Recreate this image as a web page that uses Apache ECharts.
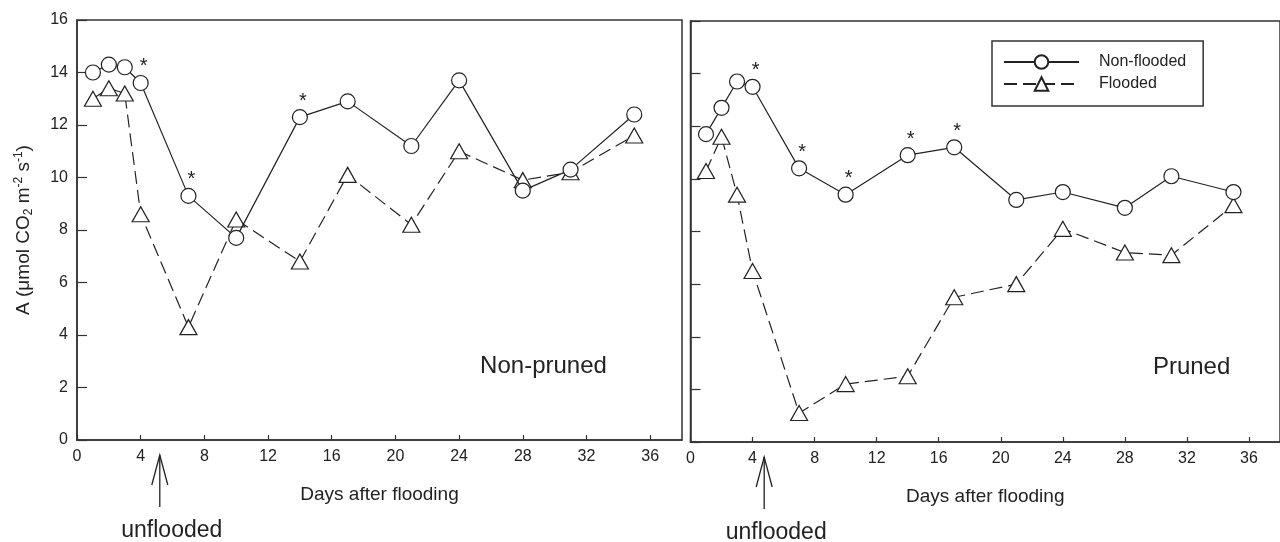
<!DOCTYPE html>
<html>
<head>
<meta charset="utf-8">
<script src="https://cdn.jsdelivr.net/npm/echarts@6/dist/echarts.min.js"></script>
<style>
html, body { margin: 0; padding: 0; background: #fff; }
#chart { width: 1280px; height: 542px; }
</style>
</head>
<body>
<div id="chart"></div>
<script>
// sampling days after flooding
var days = [1, 2, 3, 4, 7, 10, 14, 17, 21, 24, 28, 31, 35];

// A (umol CO2 m-2 s-1), non-pruned panel
var nonPrunedNonFlooded = [14.0, 14.3, 14.2, 13.6, 9.3, 7.7, 12.3, 12.9, 11.2, 13.7, 9.5, 10.3, 12.4];
var nonPrunedFlooded = [13.0, 13.4, 13.2, 8.6, 4.3, 8.4, 6.8, 10.1, 8.2, 11.0, 9.9, 10.2, 11.6];

// pruned panel
var prunedNonFlooded = [11.7, 12.7, 13.7, 13.5, 10.4, 9.4, 10.9, 11.2, 9.2, 9.5, 8.9, 10.1, 9.5];
var prunedFlooded = [10.3, 11.6, 9.4, 6.5, 1.1, 2.2, 2.5, 5.5, 6.0, 8.1, 7.2, 7.1, 9.0];

// days marked with * (significant difference)
var sigNonPruned = [4, 7, 14];
var sigPruned = [4, 7, 10, 14, 17];

var panelNames = ['Non-pruned', 'Pruned'];
var unfloodedDay = [5.2, 4.75];

var FONT = 'Liberation Sans, Arial, sans-serif';
var INK = '#222';

var chart = echarts.init(document.getElementById('chart'));

function buildData(values, sigDays) {
    return days.map(function (d, i) {
        return { value: [d, values[i]], label: { show: sigDays.indexOf(d) >= 0 } };
    });
}

function makeSeries(name, idx, values, sigDays, flooded) {
    return {
        name: name,
        type: 'line',
        xAxisIndex: idx,
        yAxisIndex: idx,
        data: buildData(values, sigDays),
        symbol: flooded ? 'triangle' : 'circle',
        symbolSize: flooded ? [17, 15] : 15,
        showAllSymbol: true,
        itemStyle: { color: '#fff', borderColor: INK, borderWidth: 1.2 },
        lineStyle: { color: INK, width: 1.2, type: flooded ? [13, 6] : 'solid' },
        label: {
            show: false,
            formatter: '*',
            position: 'top',
            distance: 0,
            offset: [3, 2],
            fontSize: 20,
            color: INK,
            fontFamily: FONT
        },
        emphasis: { disabled: true },
        z: flooded ? 2 : 3
    };
}

function xAxisCfg(idx) {
    return {
        type: 'value',
        gridIndex: idx,
        min: 0,
        max: 38,
        interval: 4,
        name: 'Days after flooding',
        nameLocation: 'middle',
        nameGap: 45,
        nameTextStyle: { fontSize: 19, color: INK, fontFamily: FONT },
        axisLine: { lineStyle: { color: '#333', width: 1.5 } },
        axisTick: { inside: true, length: 5, lineStyle: { color: '#333', width: 1.2 } },
        axisLabel: { fontSize: 16, color: INK, fontFamily: FONT, margin: 9, showMaxLabel: false },
        splitLine: { show: false }
    };
}

function yAxisCfg(idx) {
    var cfg = {
        type: 'value',
        gridIndex: idx,
        min: 0,
        max: 16,
        interval: 2,
        axisLine: { show: true, lineStyle: { color: '#333', width: 1.5 } },
        axisTick: { show: true, inside: true, length: 10, lineStyle: { color: '#333', width: 1.2 } },
        axisLabel: { show: idx === 0, fontSize: 16, color: INK, fontFamily: FONT, margin: 9 },
        splitLine: { show: false }
    };
    if (idx === 0) {
        cfg.name = 'A (\u03bcmol CO{sub|2} m{sup|-2} s{sup|-1})';
        cfg.nameLocation = 'middle';
        cfg.nameGap = 42;
        cfg.nameTextStyle = {
            fontSize: 19, color: INK, fontFamily: FONT,
            rich: {
                sub: { fontSize: 12, verticalAlign: 'bottom', padding: [10, 0, 0, 0], fontFamily: FONT, color: INK },
                sup: { fontSize: 12, verticalAlign: 'top', padding: [0, 0, 10, 0], fontFamily: FONT, color: INK }
            }
        };
    }
    return cfg;
}

var option = {
    animation: false,
    backgroundColor: '#fff',
    grid: [
        { left: 77, top: 20, width: 605, height: 420, show: true, borderColor: '#333', borderWidth: 1.5 },
        { left: 690.5, top: 21, width: 600, height: 421, show: true, borderColor: '#333', borderWidth: 1.5 }
    ],
    xAxis: [xAxisCfg(0), xAxisCfg(1)],
    yAxis: [yAxisCfg(0), yAxisCfg(1)],
    legend: {
        data: ['Non-flooded', 'Flooded'],
        orient: 'vertical',
        left: 992,
        top: 41,
        itemWidth: 75,
        itemHeight: 17,
        itemGap: 6,
        padding: [13, 17, 14, 11],
        borderColor: '#333',
        borderWidth: 1.5,
        selectedMode: false,
        textStyle: { fontSize: 16, color: INK, fontFamily: FONT, padding: [0, 0, 0, 15] }
    },
    series: [
        makeSeries('Flooded', 0, nonPrunedFlooded, [], true),
        makeSeries('Non-flooded', 0, nonPrunedNonFlooded, sigNonPruned, false),
        makeSeries('Flooded', 1, prunedFlooded, [], true),
        makeSeries('Non-flooded', 1, prunedNonFlooded, sigPruned, false)
    ]
};

chart.setOption(option);

// annotations: panel names, "unflooded" arrows under the x axes
var panelLabelPos = [[29.3, 2.8], [32.3, 2.85]];
var graphics = [];
[0, 1].forEach(function (g) {
    var p = chart.convertToPixel({ gridIndex: g }, panelLabelPos[g]);
    graphics.push({
        type: 'text', x: p[0], y: p[1],
        style: { text: panelNames[g], fontSize: 24, fill: INK, fontFamily: FONT, align: 'center', verticalAlign: 'middle' }
    });
    var a = chart.convertToPixel({ gridIndex: g }, [unfloodedDay[g], 0]);
    var tip = a[1] + 15, bottom = a[1] + 67;
    graphics.push({
        type: 'polyline',
        shape: { points: [[a[0], bottom], [a[0], tip]] },
        style: { stroke: INK, lineWidth: 1.3, fill: null }
    });
    graphics.push({
        type: 'polyline',
        shape: { points: [[a[0] - 8, tip + 30], [a[0], tip], [a[0] + 8, tip + 30]] },
        style: { stroke: INK, lineWidth: 1.3, fill: null }
    });
    graphics.push({
        type: 'text', x: a[0] + 12, y: a[1] + 91,
        style: { text: 'unflooded', fontSize: 23, fill: INK, fontFamily: FONT, align: 'center', verticalAlign: 'middle' }
    });
});
chart.setOption({ graphic: graphics });
</script>
</body>
</html>
